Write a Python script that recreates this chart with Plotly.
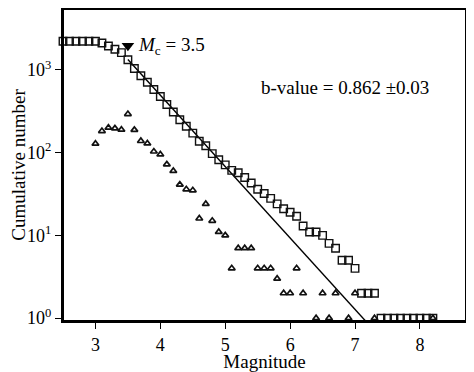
import plotly.graph_objects as go
import numpy as np

# Cumulative number (open squares)
mag_cum = [2.5, 2.6, 2.7, 2.8, 2.9, 3.0, 3.1, 3.2, 3.3, 3.4, 3.5, 3.6, 3.7, 3.8, 3.9,
           4.0, 4.1, 4.2, 4.3, 4.4, 4.5, 4.6, 4.7, 4.8, 4.9, 5.0, 5.1, 5.2, 5.3, 5.4,
           5.5, 5.6, 5.7, 5.8, 5.9, 6.0, 6.1, 6.2, 6.3, 6.4, 6.5, 6.6, 6.7, 6.8, 6.9,
           7.0, 7.1, 7.2, 7.3, 7.4, 7.5, 7.6, 7.7, 7.8, 7.9, 8.0, 8.1, 8.2]
cum_count = [2210, 2210, 2210, 2210, 2210, 2210, 2110, 1940, 1770, 1610, 1320, 1034, 846, 708, 579,
             476, 381, 309, 249, 208, 172, 137, 121, 97, 82, 71, 61, 57, 50, 43,
             36, 32, 28, 24, 21, 19, 17, 13, 11, 11, 10, 8, 7, 5, 5,
             4, 2, 2, 2, 1, 1, 1, 1, 1, 1, 1, 1, 1]

# Non-cumulative number (open triangles)
mag_inc = [3.0, 3.1, 3.2, 3.3, 3.4, 3.5, 3.6, 3.7, 3.8, 3.9, 4.0, 4.1, 4.2, 4.3, 4.4,
           4.5, 4.6, 4.7, 4.8, 4.9, 5.0, 5.1, 5.2, 5.3, 5.4, 5.5, 5.6, 5.7, 5.8, 5.9,
           6.0, 6.1, 6.2, 6.4, 6.5, 6.6, 6.7, 6.9, 7.0, 7.3, 8.2]
inc_count = [128, 182, 200, 196, 189, 292, 188, 138, 129, 103, 95, 72, 60, 41, 36,
             35, 16, 24, 15, 11, 10, 4, 7, 7, 7, 4, 4, 4, 3, 2,
             2, 4, 2, 1, 2, 1, 2, 1, 2, 1, 1]

# Gutenberg-Richter fit
b_value = 0.862
a_value = 6.14
mc = 3.5
fit_m = [3.5, 7.3]
fit_n = [10 ** (a_value - b_value * m) for m in fit_m]

mc_marker_y = 1950

x_ticks = [3, 4, 5, 6, 7, 8]
y_ticks = [1, 10, 100, 1000]
y_ticktext = ["10<sup>0</sup>", "10<sup>1</sup>", "10<sup>2</sup>", "10<sup>3</sup>"]
minor_vals = [k * 10 ** d for d in range(0, 4) for k in range(2, 10)]

x_range = [2.5, 8.71]
y_range = [-0.034, 3.734]

font_family = "Liberation Serif"

fig = go.Figure()
fig.add_trace(go.Scatter(x=fit_m, y=fit_n, mode="lines",
                         line=dict(color="black", width=1.4), showlegend=False))
fig.add_trace(go.Scatter(x=mag_cum, y=cum_count, mode="markers",
                         marker=dict(symbol="square-open", size=7.5, color="#111",
                                     line=dict(width=1.4)),
                         showlegend=False, cliponaxis=False))
fig.add_trace(go.Scatter(x=mag_inc, y=inc_count, mode="markers",
                         marker=dict(symbol="triangle-up-open", size=6, color="#111",
                                     line=dict(width=1.7)),
                         showlegend=False, cliponaxis=False))
fig.add_trace(go.Scatter(x=[mc], y=[mc_marker_y], mode="markers",
                         marker=dict(symbol="triangle-down", size=11, color="black"),
                         showlegend=False))

fig.add_annotation(x=3.63, y=np.log10(mc_marker_y), xanchor="left", yanchor="middle",
                   text="<i>M</i><sub>c</sub> = 3.5", showarrow=False,
                   font=dict(family=font_family, size=19, color="black"))
fig.add_annotation(x=6.85, y=np.log10(603), xanchor="center", yanchor="middle",
                   text="b-value = 0.862 \u00b10.03", showarrow=False,
                   font=dict(family=font_family, size=19, color="black"))

# frame
fig.add_shape(type="rect", xref="paper", yref="paper", x0=0, x1=1, y0=0, y1=1,
              line=dict(color="black", width=2), layer="above")

common = dict(showgrid=False, zeroline=False, automargin=False, tickcolor="black")

fig.update_layout(
    width=466, height=364, autosize=False,
    margin=dict(l=55, r=8, t=1, b=51, pad=0),
    paper_bgcolor="white", plot_bgcolor="white",
    font=dict(family=font_family, size=18, color="black"),
    xaxis=dict(range=x_range, tickvals=x_ticks, ticks="outside", ticklen=6, tickwidth=1.2,
               showline=True, linecolor="black", linewidth=2, mirror=True,
               title=dict(text="Magnitude", font=dict(size=19), standoff=2), **common),
    xaxis2=dict(range=x_range, tickvals=x_ticks, ticks="outside", ticklen=6, tickwidth=1.2,
                overlaying="x", side="top", anchor="y", showticklabels=False, **common),
    yaxis=dict(type="log", range=y_range, tickvals=y_ticks, ticktext=y_ticktext,
               ticks="outside", ticklen=6, tickwidth=1.2,
               showline=True, linecolor="black", linewidth=2, mirror=True,
               title=dict(text="Cumulative number", font=dict(size=19), standoff=6), **common),
    yaxis2=dict(type="log", range=y_range, tickvals=minor_vals, ticks="outside", ticklen=3,
                tickwidth=1, overlaying="y", side="left", anchor="x",
                showticklabels=False, **common),
    yaxis3=dict(type="log", range=y_range, tickvals=y_ticks, ticks="outside", ticklen=6,
                tickwidth=1.2, overlaying="y", side="right", anchor="x",
                showticklabels=False, **common),
    yaxis4=dict(type="log", range=y_range, tickvals=minor_vals, ticks="outside", ticklen=3,
                tickwidth=1, overlaying="y", side="right", anchor="x",
                showticklabels=False, **common),
)

fig.write_html("out.html")
